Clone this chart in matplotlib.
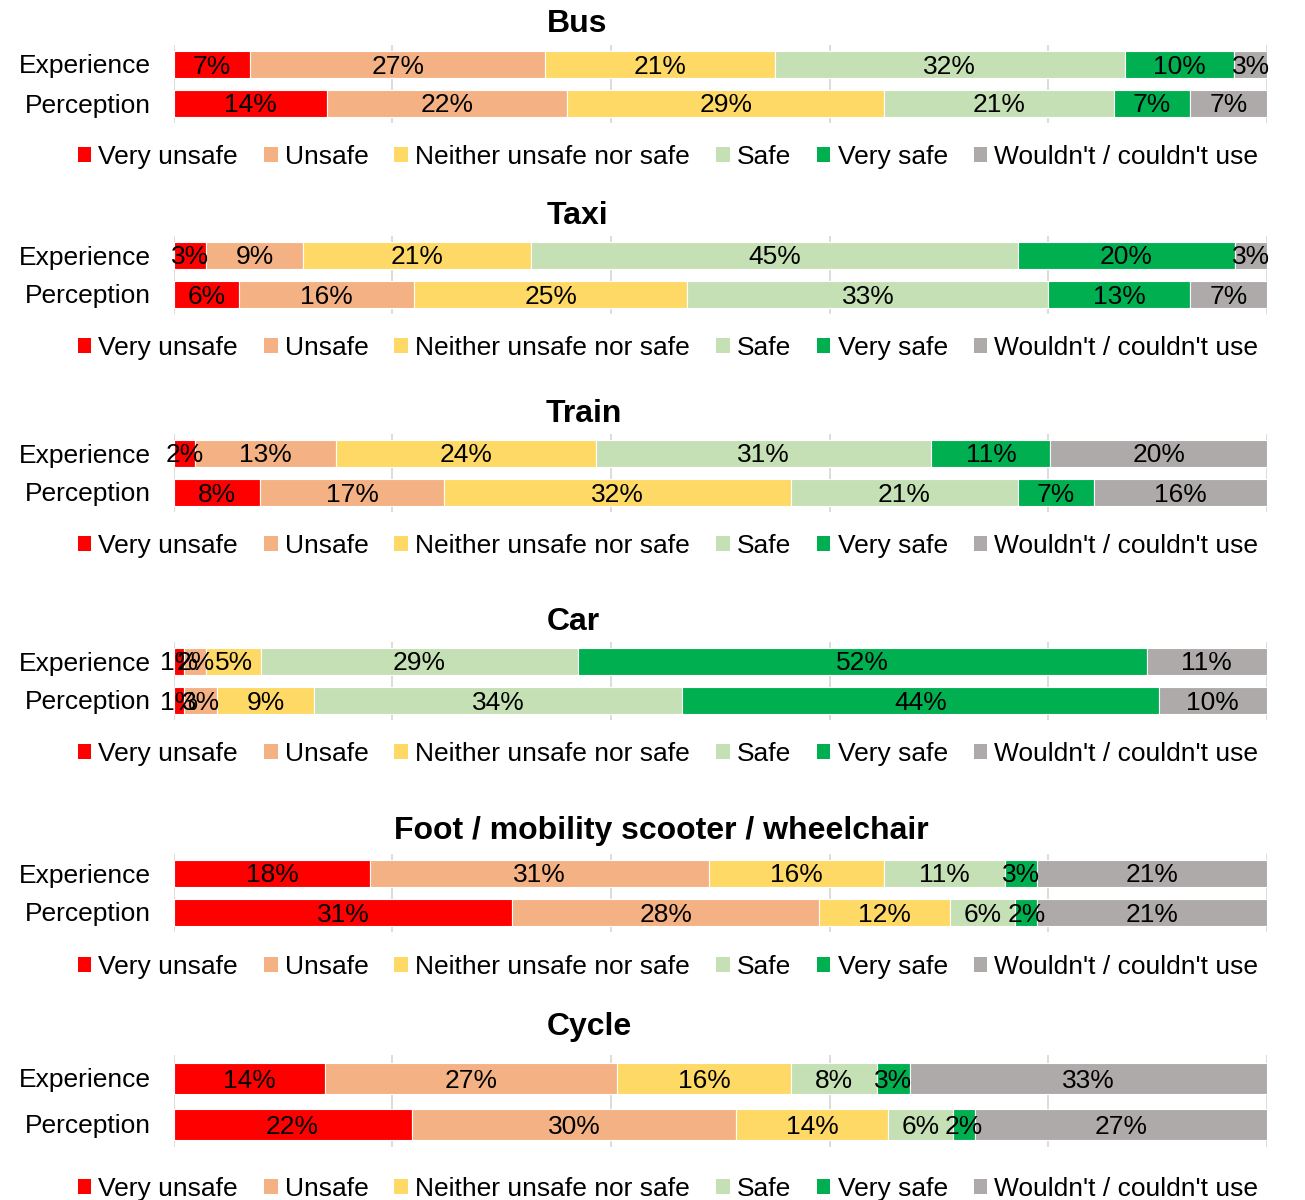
import matplotlib
matplotlib.use("Agg")
import matplotlib.pyplot as plt
from matplotlib.patches import Patch

plt.rcParams['font.family'] = ['Liberation Sans', 'DejaVu Sans']

# ---------------- data ----------------
panels = ["Bus", "Taxi", "Train", "Car", "Foot / mobility scooter / wheelchair", "Cycle"]
rows = ["Experience", "Perception"]
categories = ["Very unsafe", "Unsafe", "Neither unsafe nor safe", "Safe", "Very safe",
              "Wouldn't / couldn't use"]

bus_exp = [7, 27, 21, 32, 10, 3]
bus_perc = [14, 22, 29, 21, 7, 7]
taxi_exp = [3, 9, 21, 45, 20, 3]
taxi_perc = [6, 16, 25, 33, 13, 7]
train_exp = [2, 13, 24, 31, 11, 20]
train_perc = [8, 17, 32, 21, 7, 16]
car_exp = [1, 2, 5, 29, 52, 11]
car_perc = [1, 3, 9, 34, 44, 10]
foot_exp = [18, 31, 16, 11, 3, 21]
foot_perc = [31, 28, 12, 6, 2, 21]
cycle_exp = [14, 27, 16, 8, 3, 33]
cycle_perc = [22, 30, 14, 6, 2, 27]

data = [(bus_exp, bus_perc), (taxi_exp, taxi_perc), (train_exp, train_perc),
        (car_exp, car_perc), (foot_exp, foot_perc), (cycle_exp, cycle_perc)]

# ---------------- style / layout ----------------
colors = ["#FF0000", "#F4B183", "#FFD966", "#C5E0B4", "#00B050", "#AEAAAA"]
W, H = 1305, 1200
exp_y = [64, 255, 453, 661, 873, 1078]
perc_y = [103, 294, 492, 700, 912, 1124]
bar_px = [27, 27, 27, 27, 27, 31]
title_y = [21, 212, 410, 618, 828, 1023]
title_x = [577, 577, 584, 573, 661, 589]
legend_y = [157, 348, 546, 754, 967, 1189]
ax_left, ax_right = 173.5, 1267

fig = plt.figure(figsize=(W / 100, H / 100), dpi=100)

for i, name in enumerate(panels):
    sp = perc_y[i] - exp_y[i]
    top = exp_y[i] - 0.5 * sp
    bot = perc_y[i] + 0.5 * sp
    ax = fig.add_axes([ax_left / W, 1 - bot / H, (ax_right - ax_left) / W, (bot - top) / H])
    ax.set_xlim(0, 100)
    ax.set_ylim(-0.5, 1.5)
    hgt = bar_px[i] / sp
    for r, vals in enumerate(data[i]):
        ypos = 1 - r
        total = sum(vals)
        left = 0.0
        for k, v in enumerate(vals):
            w = v / total * 100
            ax.barh(ypos, w, left=left, height=hgt, color=colors[k],
                    edgecolor="white", linewidth=0.8, zorder=3)
            ax.text(left + w / 2, ypos, f"{v}%", ha="center", va="center_baseline",
                    fontsize=19, color="black", zorder=4)
            left += w
    ax.set_xticks(range(0, 101, 20))
    ax.set_xticklabels([])
    ax.grid(axis="x", color="#D9D9D9", linewidth=1.3, zorder=0)
    ax.tick_params(axis="x", length=0)
    ax.set_yticks([1, 0])
    ax.set_yticklabels(rows, fontsize=19)
    ax.tick_params(axis="y", length=0, pad=16.5)
    for s in ax.spines.values():
        s.set_visible(False)

    fig.text(title_x[i] / W, 1 - title_y[i] / H, name, ha="center", va="center_baseline",
             fontsize=23, fontweight="bold")

    handles = [Patch(facecolor=c, edgecolor="none") for c in colors]
    fig.legend(handles, categories, loc="center",
               bbox_to_anchor=(668 / W, 1 - legend_y[i] / H), ncol=6, frameon=False,
               fontsize=19, handlelength=0.52, handleheight=0.52, handletextpad=0.27,
               columnspacing=0.98, borderpad=0, borderaxespad=0)

fig.savefig("out.png", dpi=100)
